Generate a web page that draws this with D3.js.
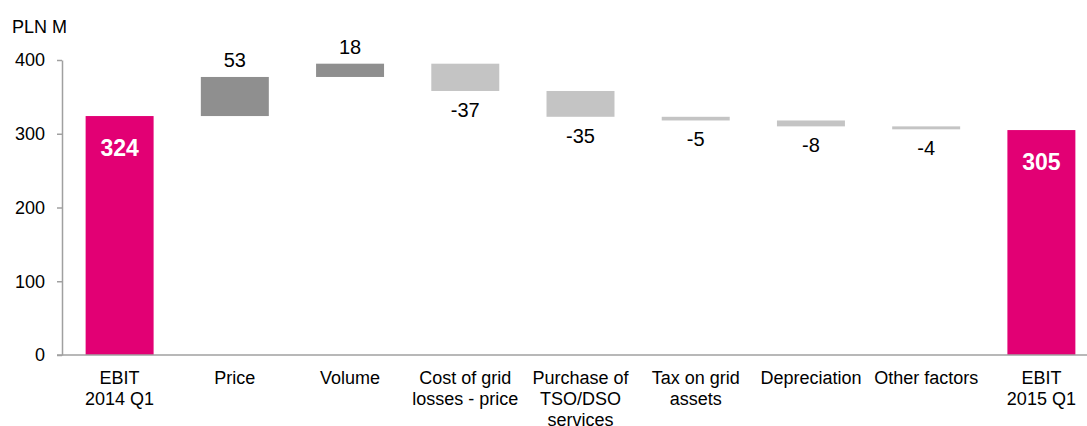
<!DOCTYPE html>
<html><head><meta charset="utf-8">
<script src="https://cdn.jsdelivr.net/npm/d3@7"></script>
<style>body{margin:0;background:#fff;} text{font-family:"Liberation Sans",Arial,sans-serif;}</style>
</head><body><svg id="c" width="1087" height="426"></svg>
<script>
const categories = [["EBIT","2014 Q1"],["Price"],["Volume"],["Cost of grid","losses - price"],["Purchase of","TSO/DSO","services"],["Tax on grid","assets"],["Depreciation"],["Other factors"],["EBIT","2015 Q1"]];
const startValue = 324;
const deltas = [53, 18, -37, -35, -5, -8, -4];
const endValue = 305;
const yTicks = [0, 100, 200, 300, 400];
const unitLabel = "PLN M";

const svg = d3.select("#c");
const x = d3.scaleBand().domain(d3.range(categories.length)).range([62, 1099]).paddingInner(0.41).paddingOuter(0.205);
const y = d3.scaleLinear().domain([0, 400]).range([355, 60]);

// build waterfall rows
const rows = [];
rows.push({i:0, lo:0, hi:startValue, type:"total", label:String(startValue)});
let cur = startValue;
deltas.forEach((d, k) => {
  const a = cur, b = cur + d;
  rows.push({i:k+1, lo:Math.min(a,b), hi:Math.max(a,b), type: d >= 0 ? "up" : "down", label:String(d), v:d});
  cur = b;
});
rows.push({i:categories.length-1, lo:0, hi:endValue, type:"total", label:String(endValue)});

const color = {total:"#E20074", up:"#8F8F8F", down:"#C4C4C4"};

svg.append("g").selectAll("rect").data(rows).join("rect")
  .attr("x", d => x(d.i)).attr("width", x.bandwidth())
  .attr("y", d => y(d.hi)).attr("height", d => y(d.lo) - y(d.hi))
  .attr("fill", d => color[d.type]);

// value labels
svg.append("g").selectAll("text").data(rows).join("text")
  .attr("x", d => x(d.i) + x.bandwidth()/2)
  .attr("y", d => d.type === "total" ? y(d.hi) + 40 : d.type === "up" ? y(d.hi) - 10 : y(d.lo) + 26)
  .attr("text-anchor", "middle")
  .attr("font-size", d => d.type === "total" ? 23 : 20)
  .attr("font-weight", d => d.type === "total" ? "bold" : "normal")
  .attr("fill", d => d.type === "total" ? "#fff" : "#000")
  .text(d => d.label);

// y axis
const ya = svg.append("g").attr("transform", "translate(62,0)")
  .call(d3.axisLeft(y).tickValues(yTicks).tickSizeInner(5).tickSizeOuter(0).tickPadding(12));
ya.select(".domain").attr("stroke", "#A0A0A0").attr("stroke-width", 1.5);
ya.selectAll(".tick line").attr("stroke", "#A0A0A0").attr("stroke-width", 1.5);
ya.selectAll(".tick text").attr("font-size", 18).attr("fill", "#000").attr("font-family", "Liberation Sans, Arial, sans-serif");

// x axis line
svg.append("line").attr("x1", 57).attr("x2", 1087).attr("y1", y(0)).attr("y2", y(0))
  .attr("stroke", "#A0A0A0").attr("stroke-width", 1.5);

// category labels
const cl = svg.append("g").selectAll("text").data(categories).join("text")
  .attr("text-anchor", "middle").attr("font-size", 18).attr("fill", "#000")
  .attr("transform", (d, i) => `translate(${x(i) + x.bandwidth()/2},384)`);
cl.selectAll("tspan").data(d => d).join("tspan")
  .attr("x", 0).attr("dy", (d, j) => j === 0 ? 0 : 21).text(d => d);

svg.append("text").attr("x", 12).attr("y", 33).attr("font-size", 18).attr("fill", "#000").text(unitLabel);
</script></body></html>
